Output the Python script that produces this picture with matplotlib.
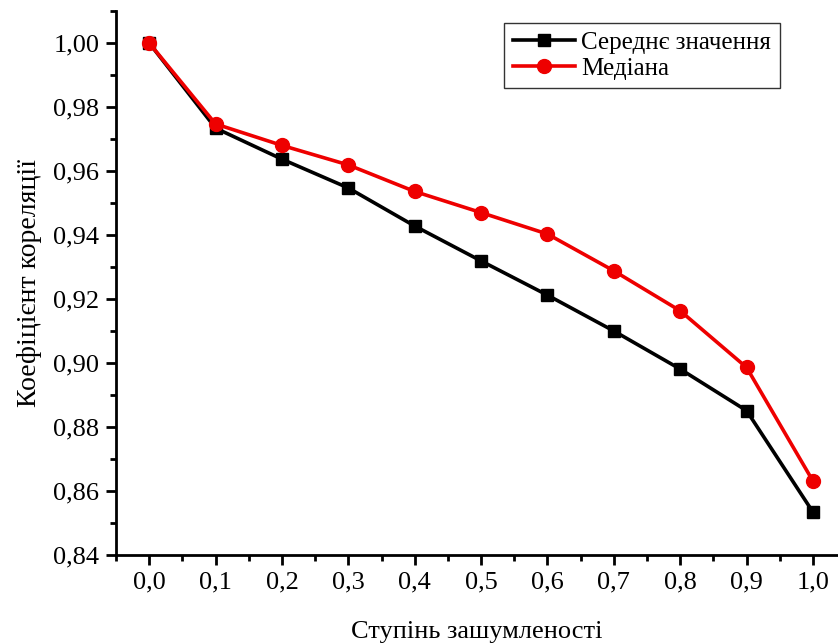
import matplotlib
matplotlib.use('Agg')
from matplotlib import pyplot as plt
from matplotlib.ticker import MultipleLocator

noise = [0.0, 0.1, 0.2, 0.3, 0.4, 0.5, 0.6, 0.7, 0.8, 0.9, 1.0]
mean_vals = [1.000, 0.9734, 0.9637, 0.9547, 0.9428, 0.9319, 0.9212, 0.9100, 0.8981, 0.8851, 0.8534]
median_vals = [1.000, 0.9747, 0.9680, 0.9619, 0.9536, 0.9470, 0.9403, 0.9288, 0.9163, 0.8986, 0.8631]

plt.rcParams['font.family'] = ['Liberation Serif', 'DejaVu Serif']

fig = plt.figure(figsize=(8.38, 6.43), dpi=100)
ax = fig.add_axes([116 / 838, 88 / 643, 722 / 838, 544 / 643])

ax.plot(noise, mean_vals, 's-', color='black', lw=2.6, ms=9, label='Середнє значення')
ax.plot(noise, median_vals, 'o-', color='#ee0000', lw=2.6, ms=10, label='Медіана')

ax.set_xlim(-0.05, 1.0377)
ax.set_ylim(0.84, 1.01)
ax.xaxis.set_major_locator(MultipleLocator(0.1))
ax.xaxis.set_minor_locator(MultipleLocator(0.05))
ax.yaxis.set_major_locator(MultipleLocator(0.02))
ax.yaxis.set_minor_locator(MultipleLocator(0.01))
ax.xaxis.set_major_formatter(lambda v, p: f'{v:.1f}'.replace('.', ','))
ax.yaxis.set_major_formatter(lambda v, p: f'{v:.2f}'.replace('.', ','))

for s in ['top', 'right']:
    ax.spines[s].set_visible(False)
for s in ['left', 'bottom']:
    ax.spines[s].set_linewidth(2)
ax.tick_params(which='major', direction='out', length=7, width=2, labelsize=19, pad=5)
ax.tick_params(which='minor', direction='out', length=4, width=2)

ax.set_xlabel('Ступінь зашумленості', fontsize=19, labelpad=20)
ax.set_ylabel('Коефіцієнт кореляції', fontsize=20, labelpad=8)

leg = ax.legend(loc='upper right', bbox_to_anchor=(0.9197, 0.978), fontsize=18, frameon=True,
                fancybox=False, edgecolor='black', handlelength=2.5, borderpad=0.35,
                labelspacing=0.12, handletextpad=0.25, borderaxespad=0)
leg.get_frame().set_linewidth(1)

fig.savefig('out.png', dpi=100)
